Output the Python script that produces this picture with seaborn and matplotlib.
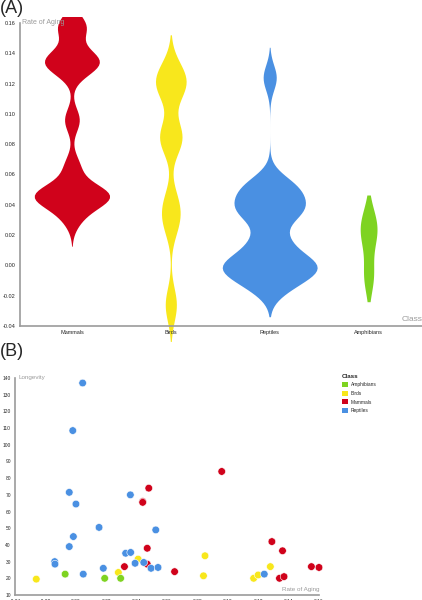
import numpy as np
import pandas as pd
import matplotlib
matplotlib.use("Agg")
import matplotlib.pyplot as plt
import seaborn as sns
from matplotlib.patches import Patch, Rectangle

# valores (taxa de envelhecimento x longevidade)
mammals_rate = [0.032, 0.044, 0.044, 0.048, 0.047, 0.047, 0.065, 0.096, 0.129, 0.136, 0.134, 0.137, 0.155, 0.160]
mammals_long = [27, 66, 65.5, 74, 38, 28.5, 24, 84, 42, 36.5, 20, 21, 27, 26.5]

birds_rate = [-0.026, 0.028, 0.041, 0.085, 0.084, 0.117, 0.120, 0.128]
birds_long = [19.5, 23.5, 31.5, 33.5, 21.5, 20, 22, 27]

reptiles_rate = [0.0045, -0.002, -0.0043, 0.0001, 0.0153, -0.0016, -0.0043, -0.0139, -0.0137, 0.0049,
                 0.0181, 0.0359, 0.0328, 0.0361, 0.039, 0.0447, 0.0495, 0.0541, 0.0526, 0.124]
reptiles_long = [137, 108.5, 71.5, 64.5, 50.5, 45, 39, 30, 28.5, 22.5,
                 26, 70, 35, 35.5, 29, 29.5, 26, 26.5, 49, 22.5]

amphibians_rate = [-0.007, 0.019, 0.0295]
amphibians_long = [22.5, 20, 20]

violin_order = ["Mammals", "Birds", "Reptiles", "Amphibians"]
legend_order = ["Amphibians", "Birds", "Mammals", "Reptiles"]
cores = {"Mammals": "#d0021b", "Birds": "#f8e71c", "Reptiles": "#4a90e2", "Amphibians": "#7ed321"}

y_ticks_a = [-0.04, -0.02, 0.00, 0.02, 0.04, 0.06, 0.08, 0.10, 0.12, 0.14, 0.16]
y_ticks_b = list(range(10, 150, 10))

# estilo de cada violino (largura maxima, suavizacao e corte)
larguras = {"Mammals": 0.76, "Birds": 0.31, "Reptiles": 0.96, "Amphibians": 0.17}
suaviz = {"Mammals": 0.27, "Birds": 0.31, "Reptiles": 0.46, "Amphibians": 0.75}
cortes = {"Mammals": 2.5, "Birds": 2.2, "Reptiles": 2.4, "Amphibians": 1.5}

df = pd.concat([
    pd.DataFrame({"Class": "Mammals", "Rate": mammals_rate, "Longevity": mammals_long}),
    pd.DataFrame({"Class": "Birds", "Rate": birds_rate, "Longevity": birds_long}),
    pd.DataFrame({"Class": "Reptiles", "Rate": reptiles_rate, "Longevity": reptiles_long}),
    pd.DataFrame({"Class": "Amphibians", "Rate": amphibians_rate, "Longevity": amphibians_long}),
], ignore_index=True)

sns.set_style("white")
plt.rcParams["font.family"] = ["Liberation Sans", "DejaVu Sans"]

fig = plt.figure(figsize=(4.22, 6.0), dpi=100)
cinza = "#9b9b9b"

# (A) violinos
ax = fig.add_axes([20 / 422, 1 - 326 / 600, 402 / 422, 303 / 600])
for classe in violin_order:
    sub = df[df["Class"] == classe]
    sns.violinplot(data=sub, x="Class", y="Rate", order=violin_order, color=cores[classe],
                   inner=None, linewidth=0, bw_adjust=suaviz[classe], cut=cortes[classe],
                   density_norm="width", width=larguras[classe], saturation=1, ax=ax)
ax.set_xlim(-0.525, 3.54)
ax.set_ylim(-0.04, 0.16)
recorte = Rectangle((-1, -0.08), 6, 0.244, transform=ax.transData, facecolor="none")
for c in ax.collections:
    c.set_clip_on(True)
    c.set_clip_path(recorte)
    c.set_zorder(0.5)
ax.set_yticks(y_ticks_a)
ax.set_yticklabels([f"{v:.2f}" for v in y_ticks_a])
ax.tick_params(axis="both", labelsize=4, length=2, width=0.6, color="#555555", pad=1)
ax.set_xlabel("")
ax.set_ylabel("")
for s in ["top", "right"]:
    ax.spines[s].set_visible(False)
ax.spines["left"].set_color(cinza)
ax.spines["bottom"].set_color(cinza)
ax.spines["left"].set_linewidth(1.2)
ax.spines["bottom"].set_linewidth(1.2)
for t in ax.get_xticklabels():
    t.set_zorder(5)
ax.text(0.005, 1.0, "Rate of Aging", transform=ax.transAxes, fontsize=5, color=cinza, va="center")
ax.text(1.0, 0.01, "Class", transform=ax.transAxes, fontsize=6, color=cinza, ha="right", va="bottom")
fig.text(0.0, 1.0, "(A)", fontsize=13, va="top", ha="left")

# (B) dispersao
ax2 = fig.add_axes([15 / 422, 1 - 595 / 600, 304 / 422, 217 / 600])
sns.scatterplot(data=df, x="Rate", y="Longevity", hue="Class", palette=cores,
                s=30, edgecolor="white", linewidth=0.4, legend=False, clip_on=False, ax=ax2)
ax2.set_xlim(-0.04, 0.16)
ax2.set_ylim(10, 140)
ax2.set_xticks(y_ticks_a)
ax2.set_xticklabels([f"{v:.2f}" for v in y_ticks_a])
ax2.set_yticks(y_ticks_b)
ax2.tick_params(axis="both", labelsize=3.5, length=2, width=0.6, color="#555555", pad=1)
ax2.set_xlabel("")
ax2.set_ylabel("")
for s in ["top", "right"]:
    ax2.spines[s].set_visible(False)
ax2.spines["left"].set_color(cinza)
ax2.spines["bottom"].set_color(cinza)
ax2.spines["left"].set_linewidth(1.2)
ax2.spines["bottom"].set_linewidth(1.2)
ax2.text(0.01, 1.0, "Longevity", transform=ax2.transAxes, fontsize=4.5, color=cinza, va="center")
ax2.text(1.0, 0.012, "Rate of Aging", transform=ax2.transAxes, fontsize=4.5, color=cinza, ha="right", va="bottom")
fig.text(0.0, 1 - 343 / 600, "(B)", fontsize=13, va="top", ha="left")

handles = [Patch(facecolor=cores[k], edgecolor="none", label=k) for k in legend_order]
leg = fig.legend(handles=handles, title="Class", loc="upper left",
                 bbox_to_anchor=(340 / 422, 1 - 372 / 600), frameon=False,
                 fontsize=3.5, handlelength=1.2, handleheight=1.2, handletextpad=0.6,
                 labelspacing=0.7, borderaxespad=0)
leg.get_title().set_fontsize(4.5)
leg.get_title().set_fontweight("bold")
leg._legend_box.align = "left"

fig.savefig("out.png", dpi=100)
